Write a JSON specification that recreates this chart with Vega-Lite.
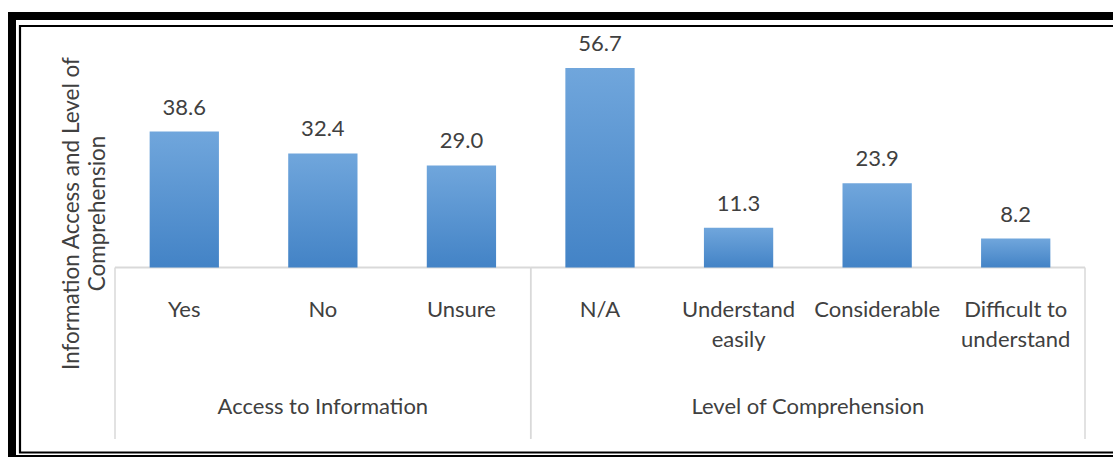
{
  "$schema": "https://vega.github.io/schema/vega-lite/v6.json",
  "width": 1113,
  "height": 457,
  "autosize": "none",
  "padding": 0,
  "background": "white",
  "config": {"view": {"stroke": null}, "font": "Lato"},
  "datasets": {
    "bars": [
      {"group": "Access to Information", "category": "Yes", "value": 38.6},
      {"group": "Access to Information", "category": "No", "value": 32.4},
      {"group": "Access to Information", "category": "Unsure", "value": 29.0},
      {"group": "Level of Comprehension", "category": "N/A", "value": 56.7},
      {"group": "Level of Comprehension", "category": "Understand\neasily", "value": 11.3},
      {"group": "Level of Comprehension", "category": "Considerable", "value": 23.9},
      {"group": "Level of Comprehension", "category": "Difficult to\nunderstand", "value": 8.2}
    ],
    "groups": [
      {"group": "Access to Information", "start": 0, "end": 3},
      {"group": "Level of Comprehension", "start": 3, "end": 7}
    ]
  },
  "layer": [
    {
      "layer": [
        {
          "data": {"values": [{}]},
          "mark": {"type": "rect", "filled": false, "stroke": "black", "strokeWidth": 8},
          "encoding": {
            "x": {"datum": -0.7433, "type": "quantitative", "scale": {"domain": [0, 7], "range": [115, 1085], "nice": false, "zero": false}, "axis": null},
            "x2": {"datum": 7.4},
            "y": {"datum": 71.45, "type": "quantitative", "scale": {"domain": [-53.84, 75.99], "nice": false, "zero": false}},
            "y2": {"datum": -54.4}
          }
        },
        {
          "data": {"values": [{}]},
          "mark": {"type": "rect", "filled": false, "stroke": "black", "strokeWidth": 2.2},
          "encoding": {
            "x": {"datum": -0.6856, "type": "quantitative", "scale": {"domain": [0, 7], "range": [115, 1085], "nice": false, "zero": false}, "axis": null},
            "x2": {"datum": 7.4},
            "y": {"datum": 68.61, "type": "quantitative", "scale": {"domain": [-53.84, 75.99], "nice": false, "zero": false}},
            "y2": {"datum": -52.56}
          }
        },
        {
          "data": {"name": "groups"},
          "mark": {"type": "rule", "color": "#d9d9d9", "strokeWidth": 1.5},
          "encoding": {
            "x": {"field": "start", "type": "quantitative", "scale": {"domain": [0, 7], "range": [115, 1085], "nice": false, "zero": false}, "axis": null},
            "y": {"datum": 0, "type": "quantitative", "scale": {"domain": [-53.84, 75.99], "nice": false, "zero": false}},
            "y2": {"datum": -48.7}
          }
        },
        {
          "data": {"name": "groups"},
          "mark": {"type": "rule", "color": "#d9d9d9", "strokeWidth": 1.5},
          "encoding": {
            "x": {"field": "end", "type": "quantitative", "scale": {"domain": [0, 7], "range": [115, 1085], "nice": false, "zero": false}, "axis": null},
            "y": {"datum": 0, "type": "quantitative", "scale": {"domain": [-53.84, 75.99], "nice": false, "zero": false}},
            "y2": {"datum": -48.7}
          }
        },
        {
          "data": {"name": "groups"},
          "mark": {"type": "rule", "color": "#d9d9d9", "strokeWidth": 2},
          "encoding": {
            "x": {"field": "start", "type": "quantitative", "scale": {"domain": [0, 7], "range": [115, 1085], "nice": false, "zero": false}, "axis": null},
            "x2": {"field": "end"},
            "y": {"datum": 0, "type": "quantitative", "scale": {"domain": [-53.84, 75.99], "nice": false, "zero": false}}
          }
        },
        {
          "data": {"name": "groups"},
          "transform": [{"fold": ["start", "end"], "as": ["edge", "pos"]}],
          "mark": {"type": "text", "baseline": "top", "align": "center", "fontSize": 22, "color": "#404040"},
          "encoding": {
            "x": {"field": "pos", "aggregate": "mean", "type": "quantitative", "scale": {"domain": [0, 7], "range": [115, 1085], "nice": false, "zero": false}, "axis": null},
            "y": {"datum": -36.8, "type": "quantitative", "scale": {"domain": [-53.84, 75.99], "nice": false, "zero": false}},
            "text": {"field": "group"}
          }
        }
      ]
    },
    {
      "data": {"name": "bars"},
      "layer": [
        {
          "mark": {
            "type": "bar",
            "fill": {"gradient": "linear", "x1": 0, "y1": 0, "x2": 0, "y2": 1, "stops": [{"offset": 0, "color": "#70a6dc"}, {"offset": 1, "color": "#4383c6"}]},
            "stroke": null
          },
          "encoding": {
            "x": {"field": "category", "type": "nominal", "sort": null, "scale": {"range": [115, 1085], "paddingInner": 0.5, "paddingOuter": 0.25}, "axis": null},
            "y": {
              "field": "value", "type": "quantitative",
              "scale": {"domain": [-53.84, 75.99], "nice": false, "zero": false},
              "axis": {
                "title": ["Information Access and Level of", "Comprehension"],
                "domain": false, "ticks": false, "labels": false, "grid": false,
                "titleX": 71, "titleY": 213, "titleAngle": -90,
                "titleAlign": "center", "titleBaseline": "middle",
                "titleFont": "Lato", "titleFontSize": 22.5, "titleFontWeight": "normal",
                "titleColor": "#404040", "titleLineHeight": 26
              }
            },
            "y2": {"datum": 0}
          }
        },
        {
          "mark": {"type": "text", "baseline": "alphabetic", "align": "center", "dy": -17, "fontSize": 22, "color": "#404040"},
          "encoding": {
            "x": {"field": "category", "type": "nominal", "sort": null},
            "y": {"field": "value", "type": "quantitative"},
            "text": {"field": "value", "type": "quantitative", "format": ".1f"}
          }
        },
        {
          "mark": {"type": "text", "baseline": "top", "align": "center", "fontSize": 22, "color": "#404040", "lineBreak": "\n", "lineHeight": 30},
          "encoding": {
            "x": {"field": "category", "type": "nominal", "sort": null},
            "y": {"datum": -9.3, "type": "quantitative"},
            "text": {"field": "category"}
          }
        }
      ]
    }
  ],
  "resolve": {"scale": {"x": "independent"}}
}
